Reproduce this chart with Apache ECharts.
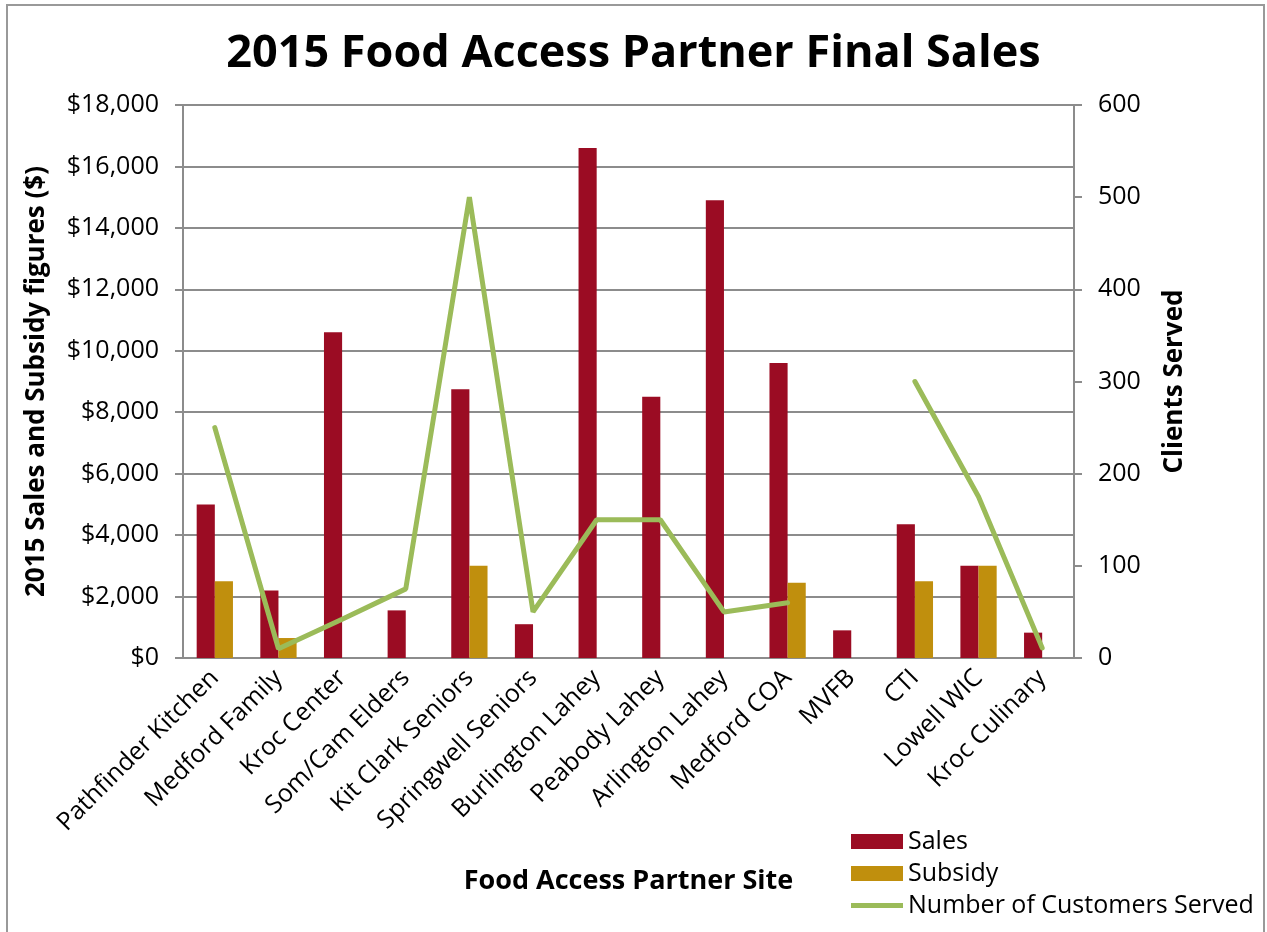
<!DOCTYPE html>
<html>
<head>
<meta charset="utf-8">
<script src="https://cdn.jsdelivr.net/npm/echarts@6/dist/echarts.min.js"></script>
<style>
	html, body { margin: 0; padding: 0; background: #fff; }
	#chart { width: 1267px; height: 932px; }
</style>
</head>
<body>
<div id="chart"></div>
<script>
var sites = [ 'Pathfinder Kitchen', 'Medford Family', 'Kroc Center', 'Som/Cam Elders',
		'Kit Clark Seniors', 'Springwell Seniors', 'Burlington Lahey', 'Peabody Lahey',
		'Arlington Lahey', 'Medford COA', 'MVFB', 'CTI', 'Lowell WIC', 'Kroc Culinary' ];
var sales = [ 5000, 2200, 10600, 1550, 8750, 1100, 16600, 8500, 14900, 9600, 900, 4350, 3000, 825 ];
var subsidy = [ 2500, 650, null, null, 3000, null, null, null, null, 2450, null, 2500, 3000, null ];
var customers = [ 250, 10, 42, 75, 500, 50, 150, 150, 50, 60, null, 300, 175, 11 ];

var font = 'Open Sans';
var gray = '#8c8c8c';

var option = {
	animation : false,
	textStyle : {
		fontFamily : font
	},
	graphic : [ {
		type : 'rect',
		shape : { x : 7, y : 5, width : 1257, height : 960 },
		style : { fill : 'none', stroke : '#999', lineWidth : 2 }
	} ],
	title : {
		text : '2015 Food Access Partner Final Sales',
		left : 'center',
		top : 27,
		textStyle : {
			fontFamily : font,
			fontSize : 45,
			fontWeight : 'bold',
			color : '#000'
		}
	},
	legend : {
		orient : 'vertical',
		left : 846,
		top : 824,
		itemWidth : 52,
		itemHeight : 15,
		itemGap : 7,
		textStyle : {
			fontSize : 25,
			color : '#000'
		},
		data : [ {
			name : 'Sales',
			icon : 'rect'
		}, {
			name : 'Subsidy',
			icon : 'rect'
		}, {
			name : 'Number of Customers Served',
			icon : 'path://M0,0 L52,0 L52,5 L0,5 Z'
		} ]
	},
	grid : {
		left : 183,
		right : 193,
		top : 105,
		bottom : 274
	},
	xAxis : [ {
		type : 'category',
		data : sites,
		name : 'Food Access Partner Site',
		nameLocation : 'middle',
		nameGap : 210,
		nameTextStyle : {
			fontSize : 27,
			fontWeight : 'bold',
			color : '#000'
		},
		axisTick : {
			show : false
		},
		axisLine : {
			lineStyle : {
				color : gray,
				width : 2
			}
		},
		axisLabel : {
			rotate : 45,
			interval : 0,
			fontSize : 25,
			color : '#000',
			margin : 16
		}
	} ],
	yAxis : [ {
		type : 'value',
		min : 0,
		max : 18000,
		interval : 2000,
		name : '2015 Sales and Subsidy figures ($)',
		nameLocation : 'middle',
		nameGap : 133,
		nameTextStyle : {
			fontSize : 26,
			fontWeight : 'bold',
			color : '#000'
		},
		axisLine : {
			show : true,
			lineStyle : {
				color : gray,
				width : 2
			}
		},
		axisTick : {
			show : true,
			length : 8,
			lineStyle : {
				color : gray,
				width : 2
			}
		},
		axisLabel : {
			fontSize : 25,
			color : '#000',
			margin : 24,
			formatter : function(v) {
				return '$' + v.toLocaleString('en-US');
			}
		},
		splitLine : {
			lineStyle : {
				color : gray,
				width : 2
			}
		}
	}, {
		type : 'value',
		min : 0,
		max : 600,
		interval : 100,
		position : 'right',
		name : 'Clients Served',
		nameLocation : 'middle',
		nameGap : 88,
		nameTextStyle : {
			fontSize : 26,
			fontWeight : 'bold',
			color : '#000'
		},
		axisLine : {
			show : true,
			lineStyle : {
				color : gray,
				width : 2
			}
		},
		axisTick : {
			show : true,
			length : 8,
			lineStyle : {
				color : gray,
				width : 2
			}
		},
		axisLabel : {
			fontSize : 25,
			color : '#000',
			margin : 24
		},
		splitLine : {
			show : false
		}
	} ],
	series : [ {
		name : 'Sales',
		type : 'bar',
		data : sales,
		barGap : '0%',
		barCategoryGap : '43%',
		itemStyle : {
			color : '#9b0c23'
		}
	}, {
		name : 'Subsidy',
		type : 'bar',
		data : subsidy,
		itemStyle : {
			color : '#c08f0d'
		}
	}, {
		name : 'Number of Customers Served',
		type : 'line',
		yAxisIndex : 1,
		data : customers,
		showSymbol : false,
		symbol : 'none',
		connectNulls : false,
		z : 5,
		lineStyle : {
			color : '#9bbb59',
			width : 5,
			cap : 'round'
		},
		itemStyle : {
			color : '#9bbb59'
		}
	} ]
};

var chart = echarts.init(document.getElementById('chart'));
chart.setOption(option);
</script>
</body>
</html>
